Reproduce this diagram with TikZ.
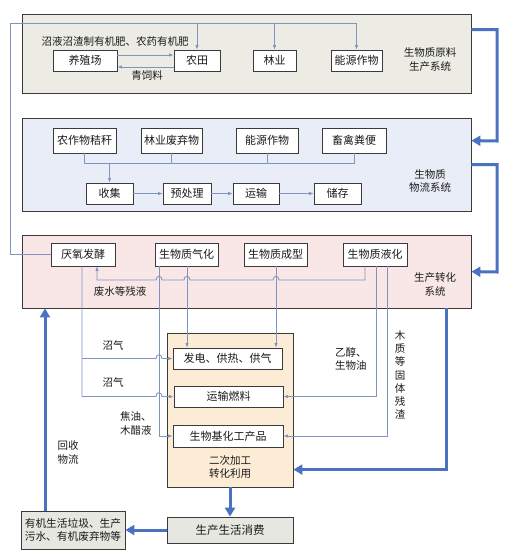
\documentclass[tikz,border=0pt]{standalone}
\usepackage{fontspec}
\setmainfont{Noto Sans CJK SC}
\usetikzlibrary{arrows.meta}
\definecolor{thinc}{HTML}{7F94BE}
\definecolor{bigc}{HTML}{4A72C0}
\definecolor{edge}{HTML}{3A3A3A}
\definecolor{pone}{HTML}{ECECE4}
\definecolor{ptwo}{HTML}{E9EDF7}
\definecolor{pthree}{HTML}{F9E6E6}
\definecolor{psec}{HTML}{FCEBD5}
\definecolor{pgray}{HTML}{E7E7E2}
\definecolor{txt}{HTML}{1A1A1A}
\tikzset{
  panel/.style={draw=edge, line width=0.8pt, inner sep=0pt},
  box/.style={draw=edge, fill=white, line width=0.8pt, inner sep=0pt, text=txt, font=\fontsize{11}{12}\selectfont},
  lbl/.style={inner sep=0pt, text=txt, font=\fontsize{10.5}{13.3}\selectfont, align=center},
  thinl/.style={draw=thinc, line width=0.8pt},
  thina/.style={draw=thinc, line width=0.8pt, -{Latex[length=4.5pt,width=3.5pt]}},
  big/.style={draw=bigc, line width=3pt, -{Triangle[length=9pt,width=10pt]}},
}
\begin{document}
\begin{tikzpicture}[x=1pt,y=-1pt]
\useasboundingbox[fill=white] (0,0) rectangle (506,559);

% panels
\node[panel, fill=pone, minimum width=449pt, minimum height=79pt] (p1) at (246.5,53.5) {};
\node[panel, fill=ptwo, minimum width=449pt, minimum height=93pt] (p2) at (246.5,164.5) {};
\node[panel, fill=pthree, minimum width=449pt, minimum height=73pt] (p3) at (246.5,271.5) {};
\node[panel, fill=psec, minimum width=126pt, minimum height=154pt] (sec) at (230,410) {};
\node[box, fill=pgray, minimum width=126pt, minimum height=26pt, font=\fontsize{11.5}{12}\selectfont] (xf) at (230,530) {生产生活消费};
\node[box, fill=pgray, minimum width=104pt, minimum height=38pt, align=center, font=\fontsize{10.7}{13.5}\selectfont] (yj) at (73,530) {有机生活垃圾、生产\\污水、有机废弃物等};

% panel 1 boxes
\node[box, minimum width=64pt, minimum height=21pt] (yz) at (85,60.5) {养殖场};
\node[box, minimum width=46pt, minimum height=21pt] (nt) at (197,60.5) {农田};
\node[box, minimum width=43pt, minimum height=21pt] (ly) at (274.5,60.5) {林业};
\node[box, minimum width=51pt, minimum height=21pt] (nyzw) at (356.5,60.5) {能源作物};

% panel 2 boxes
\node[box, minimum width=63pt, minimum height=25pt] (zjg) at (84.5,140.5) {农作物秸秆};
\node[box, minimum width=61pt, minimum height=25pt] (lyf) at (171.5,140.5) {林业废弃物};
\node[box, minimum width=62pt, minimum height=25pt] (nyb) at (267,140.5) {能源作物};
\node[box, minimum width=64pt, minimum height=25pt] (xq) at (354,140.5) {畜禽粪便};
\node[box, minimum width=47pt, minimum height=21pt] (sj) at (109.5,193.5) {收集};
\node[box, minimum width=48pt, minimum height=21pt] (ycl) at (187,193.5) {预处理};
\node[box, minimum width=46pt, minimum height=21pt] (ys) at (256,193.5) {运输};
\node[box, minimum width=47pt, minimum height=21pt] (cc) at (337.5,193.5) {储存};

% panel 3 boxes
\node[box, minimum width=64pt, minimum height=23pt] (yyfj) at (83,254.5) {厌氧发酵};
\node[box, minimum width=63pt, minimum height=23pt] (gh) at (186.5,254.5) {生物质气化};
\node[box, minimum width=63pt, minimum height=23pt] (cx) at (275.5,254.5) {生物质成型};
\node[box, minimum width=64pt, minimum height=23pt] (yhh) at (375,254.5) {生物质液化};

% secondary boxes
\node[box, minimum width=109pt, minimum height=21pt] (fd) at (227.5,358.5) {发电、供热、供气};
\node[box, minimum width=109pt, minimum height=21pt] (yszl) at (228.5,396.5) {运输燃料};
\node[box, minimum width=110pt, minimum height=22pt] (swj) at (228,436) {生物基化工产品};

% labels
\node[lbl] (l1) at (115,42) {沼液沼渣制有机肥、农药有机肥};
\node[lbl] (l2) at (147,76) {青饲料};
\node[lbl] (l3) at (430,59.5) {生物质原料\\生产系统};
\node[lbl] (l4) at (430,181) {生物质\\物流系统};
\node[lbl] (l5) at (120,292) {废水等残液};
\node[lbl] (l6) at (435,284.5) {生产转化\\系统};
\node[lbl] (l7) at (113,345) {沼气};
\node[lbl] (l8) at (113,382) {沼气};
\node[lbl, align=left, anchor=west] (l9) at (335,359) {乙醇、\\生物油};
\node[lbl] (l10) at (400,375) {木\\质\\等\\固\\体\\残\\渣};
\node[lbl, align=left, anchor=west] (l11) at (120,423.5) {焦油、\\木醋液};
\node[lbl] (l12) at (68,452.5) {回收\\物流};
\node[lbl] (l13) at (230,467) {二次加工\\转化利用};

% thin connectors: top loop from anaerobic digestion
\draw[thinl] (yyfj.west) -| (10,23) -- (356.5,23);
\draw[thina] (197,23) -- (nt.north);
\draw[thina] (274.5,23) -- (ly.north);
\draw[thina] (356.5,23) -- (nyzw.north);
\draw[thina] ([yshift=5.5pt]yz.east) -- ([yshift=5.5pt]nt.west);
\draw[thina] ([yshift=-6.5pt]nt.west) -- ([yshift=-6.5pt]yz.east);

% panel 2
\draw[thinl] (zjg.south) -- ++(0,10) -| (xq.south);
\draw[thinl] (lyf.south) -- ++(0,10);
\draw[thinl] (nyb.south) -- ++(0,10);
\draw[thina] (109.5,163) -- (sj.north);
\draw[thina] (sj.east) -- (ycl.west);
\draw[thina] (ycl.east) -- (ys.west);
\draw[thina] (ys.east) -- (cc.west);

% panel 3 waste liquid line with hops
\draw[thina] ([xshift=-10pt]yhh.south) -- (365,280) -- (279,280)
  .. controls (279,275) and (273,275) .. (273,280) -- (190,280)
  .. controls (190,275) and (184,275) .. (184,280) -- (162,280)
  .. controls (162,275) and (156,275) .. (156,280) -- (97,280)
  -- ([xshift=14pt]yyfj.south);

% vertical feeds
\draw[thina] ([xshift=-27.5pt]gh.south) |- (swj.west);
\draw[thina] ([xshift=0.5pt]gh.south) -- ([xshift=-40.5pt]fd.north);
\draw[thina] ([xshift=0.5pt]cx.south) -- ([xshift=48.5pt]fd.north);
\draw[thina] ([xshift=1pt]yhh.south) |- (yszl.east);
\draw[thina] ([xshift=12pt]yhh.south) |- (swj.east);

% biogas lines
\draw[thina] ([xshift=-1pt]yyfj.south) -- (82,396.5) -- (156,396.5)
  .. controls (156,391.5) and (162,391.5) .. (162,396.5) -- (yszl.west);
\draw[thina] (82,358.5) -- (156,358.5)
  .. controls (156,353.5) and (162,353.5) .. (162,358.5) -- (fd.west);

% thick arrows
\draw[big] ([yshift=-16pt]p1.north east) -| (497,141) -- ([yshift=-23pt]p2.north east);
\draw[big] ([yshift=-47pt]p2.north east) -| (497,272) -- ([yshift=-37pt]p3.north east);
\draw[big] ([xshift=-25pt]p3.south east) |- ([yshift=-137pt]sec.north east);
\draw[big] (sec.south) -- (xf.north);
\draw[big] (xf.west) -- (yj.east);
\draw[big] ([xshift=-28pt]yj.north) -- ([xshift=-28pt]yj.north |- p3.south);
\end{tikzpicture}
\end{document}
